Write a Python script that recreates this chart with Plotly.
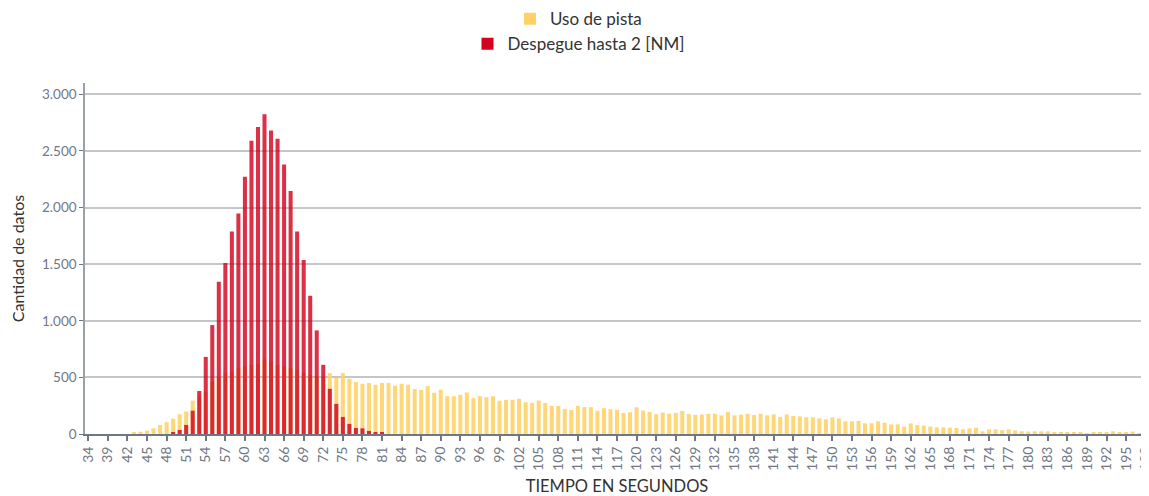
import plotly.graph_objects as go

# Categories (time in seconds)
categories = ["34", "36", "38"] + [str(s) for s in range(39, 199)]

# "Uso de pista" counts (per category, 34..198)
uso_pista = [0, 0, 0, 0, 0, 0, 0,
             10, 20, 30, 50, 80, 105, 135, 175, 198, 295,
             330, 375, 463, 507, 537, 552, 581, 596, 610, 619,
             660, 640, 610, 596, 581, 566, 537, 522, 507, 493,
             538, 494, 538, 488, 459, 444, 450, 435, 450, 450,
             426, 444, 435, 397, 388, 423, 364, 391, 334, 334,
             346, 367, 317, 334, 325, 334, 293, 302, 302, 311,
             281, 275, 296, 275, 249, 249, 222, 213, 249, 237,
             237, 204, 228, 219, 213, 186, 192, 237, 207, 195,
             175, 189, 180, 186, 204, 175, 169, 172, 178, 179,
             165, 194, 165, 171, 179, 168, 179, 165, 173, 150,
             173, 159, 156, 147, 147, 138, 129, 147, 138, 112,
             112, 115, 94, 94, 112, 100, 85, 85, 65, 94,
             79, 74, 65, 59, 59, 56, 53, 41, 50, 56,
             24, 41, 41, 35, 41, 32, 24, 21, 24, 24,
             24, 15, 15, 15, 15, 15, 6, 15, 15, 9,
             24, 18, 9, 21, 6, 15]

# "Despegue hasta 2 [NM]" counts (non-zero part 49..81)
despegue_core = [12, 35, 80, 206, 380, 681, 962, 1345, 1510, 1788,
                 1947, 2271, 2590, 2711, 2823, 2681, 2608, 2381, 2147, 1788,
                 1537, 1221, 915, 611, 399, 266, 151, 89, 53, 50,
                 27, 9, 9]
despegue = [0] * 13 + despegue_core + [0] * 117

y_ticks = [0, 500, 1000, 1500, 2000, 2500, 3000]
y_tick_text = ["0", "500", "1.000", "1.500", "2.000", "2.500", "3.000"]

FONT = "Lato"

fig = go.Figure()
fig.add_trace(go.Bar(
    x=categories, y=uso_pista, name="Uso de pista",
    marker=dict(color="#FFD166", opacity=0.88, line=dict(width=0)),
    legend="legend", hoverinfo="skip",
))
fig.add_trace(go.Bar(
    x=categories, y=despegue, name="Despegue hasta 2 [NM]",
    marker=dict(color="#D3021D", opacity=0.82, line=dict(width=0)),
    legend="legend2", hoverinfo="skip",
))

fig.update_layout(
    width=1141, height=488,
    margin=dict(l=77, r=0, t=75, b=62, autoexpand=False),
    barmode="overlay", bargap=0.38,
    plot_bgcolor="white", paper_bgcolor="white",
    font=dict(family=FONT, size=12, color="#333"),
    showlegend=True,
    legend=dict(xref="container", yref="container", x=0.5, y=0.977,
                xanchor="center", yanchor="middle", itemwidth=30,
                font=dict(size=17, color="#333"), bgcolor="rgba(0,0,0,0)"),
    legend2=dict(xref="container", yref="container", x=0.5, y=0.926,
                 xanchor="center", yanchor="middle", itemwidth=30,
                 font=dict(size=17, color="#333"), bgcolor="rgba(0,0,0,0)"),
)

fig.update_xaxes(
    type="category",
    tickmode="array", tickvals=categories[::3], ticktext=categories[::3],
    tickangle=-90, tickfont=dict(size=14, color="#707784"),
    ticks="outside", ticklen=5, tickcolor="#707784", tickwidth=1.5,
    showline=True, linecolor="#707784", linewidth=2,
    showgrid=False,
    title=dict(text="TIEMPO EN SEGUNDOS", font=dict(size=16.5, color="#333"), standoff=10),
)
fig.update_yaxes(
    range=[0, 3100],
    tickmode="array", tickvals=y_ticks, ticktext=y_tick_text,
    tickfont=dict(size=13.5, color="#707784"),
    ticks="outside", ticklen=4, tickcolor="#707784",
    showline=True, linecolor="#9aa0a8", linewidth=1.5,
    showgrid=True, gridcolor="#C4C6CA", gridwidth=1.5,
    zeroline=False,
    title=dict(text="Cantidad de datos", font=dict(size=16, color="#333"), standoff=14),
)

fig.write_html("out.html")
